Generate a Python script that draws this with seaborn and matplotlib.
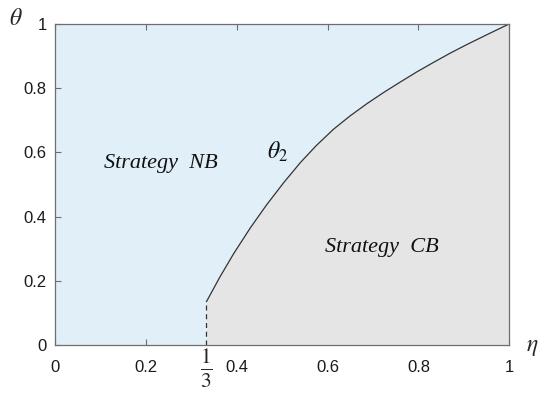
import numpy as np
import pandas as pd
import matplotlib
matplotlib.use("Agg")
import matplotlib.pyplot as plt
import seaborn as sns

# boundary theta_2(eta)
eta = [1/3, 0.363, 0.393, 0.43, 0.466, 0.503, 0.54, 0.575, 0.613, 0.65,
       0.687, 0.724, 0.76, 0.797, 0.833, 0.87, 0.907, 0.953, 1.0]
theta = [0.135, 0.212, 0.284, 0.365, 0.437, 0.505, 0.568, 0.621, 0.672, 0.714,
         0.752, 0.787, 0.819, 0.851, 0.880, 0.909, 0.936, 0.968, 1.0]
x_ticks = [0, 0.2, 0.4, 0.6, 0.8, 1]
x_tick_labels = ["0", "0.2", "0.4", "0.6", "0.8", "1"]
y_ticks = [0, 0.2, 0.4, 0.6, 0.8, 1]
y_tick_labels = ["0", "0.2", "0.4", "0.6", "0.8", "1"]
region_labels = ["Strategy  NB", "Strategy  CB"]

sns.set_style("ticks")
plt.rcParams['font.family'] = ['Liberation Sans', 'DejaVu Sans']
plt.rcParams['mathtext.fontset'] = 'stix'

df = pd.DataFrame({"eta": eta, "theta": theta})

fig = plt.figure(figsize=(5.5, 4.05), dpi=100)
ax = fig.add_axes([0.1, 0.148, 0.826, 0.793])

blue = '#E1EFF8'
grey = '#E5E5E5'
line_col = '#333333'
spine_col = '#6e6e6e'

ax.set_facecolor(blue)
ax.fill_between(df["eta"], 0, df["theta"], color=grey, linewidth=0)
sns.lineplot(data=df, x="eta", y="theta", color=line_col, linewidth=0.9, ax=ax)
ax.plot([eta[0], eta[0]], [0, theta[0]], color=line_col, linewidth=0.9, linestyle=(0, (4, 3)))

ax.set_xlim(0, 1)
ax.set_ylim(0, 1)
ax.set_xticks(x_ticks, labels=x_tick_labels)
ax.set_yticks(y_ticks, labels=y_tick_labels)
ax.set_xticks([eta[0]], labels=[r'$\frac{1}{3}$'], minor=True)
ax.tick_params(axis='x', which='minor', length=0, labelsize=22, pad=2)
ax.tick_params(which='major', direction='in', length=4, width=0.8, color=spine_col,
               labelsize=12, labelcolor='#1a1a1a', top=True, right=True)
ax.tick_params(axis='x', which='major', pad=11)
ax.tick_params(axis='y', which='major', pad=6)
ax.set_xlabel("")
ax.set_ylabel("")
for s in ax.spines.values():
    s.set_color(spine_col)
    s.set_linewidth(0.9)

serif = ['Liberation Serif', 'DejaVu Serif']
ax.text(0.232, 0.55, region_labels[0], family=serif, style='italic', fontsize=16,
        ha='center', va='baseline', color='#111111')
ax.text(0.720, 0.291, region_labels[1], family=serif, style='italic', fontsize=16,
        ha='center', va='baseline', color='#111111')
ax.text(0.491, 0.581, r'$\theta_2$', fontsize=17, ha='center', va='baseline', color='#111111')

ax.text(-0.086, 1.016, r'$\theta$', transform=ax.transAxes, fontsize=17, ha='center', va='center')
ax.text(1.05, -0.006, r'$\eta$', transform=ax.transAxes, fontsize=17, ha='center', va='center')

fig.savefig("out.png", dpi=100)
